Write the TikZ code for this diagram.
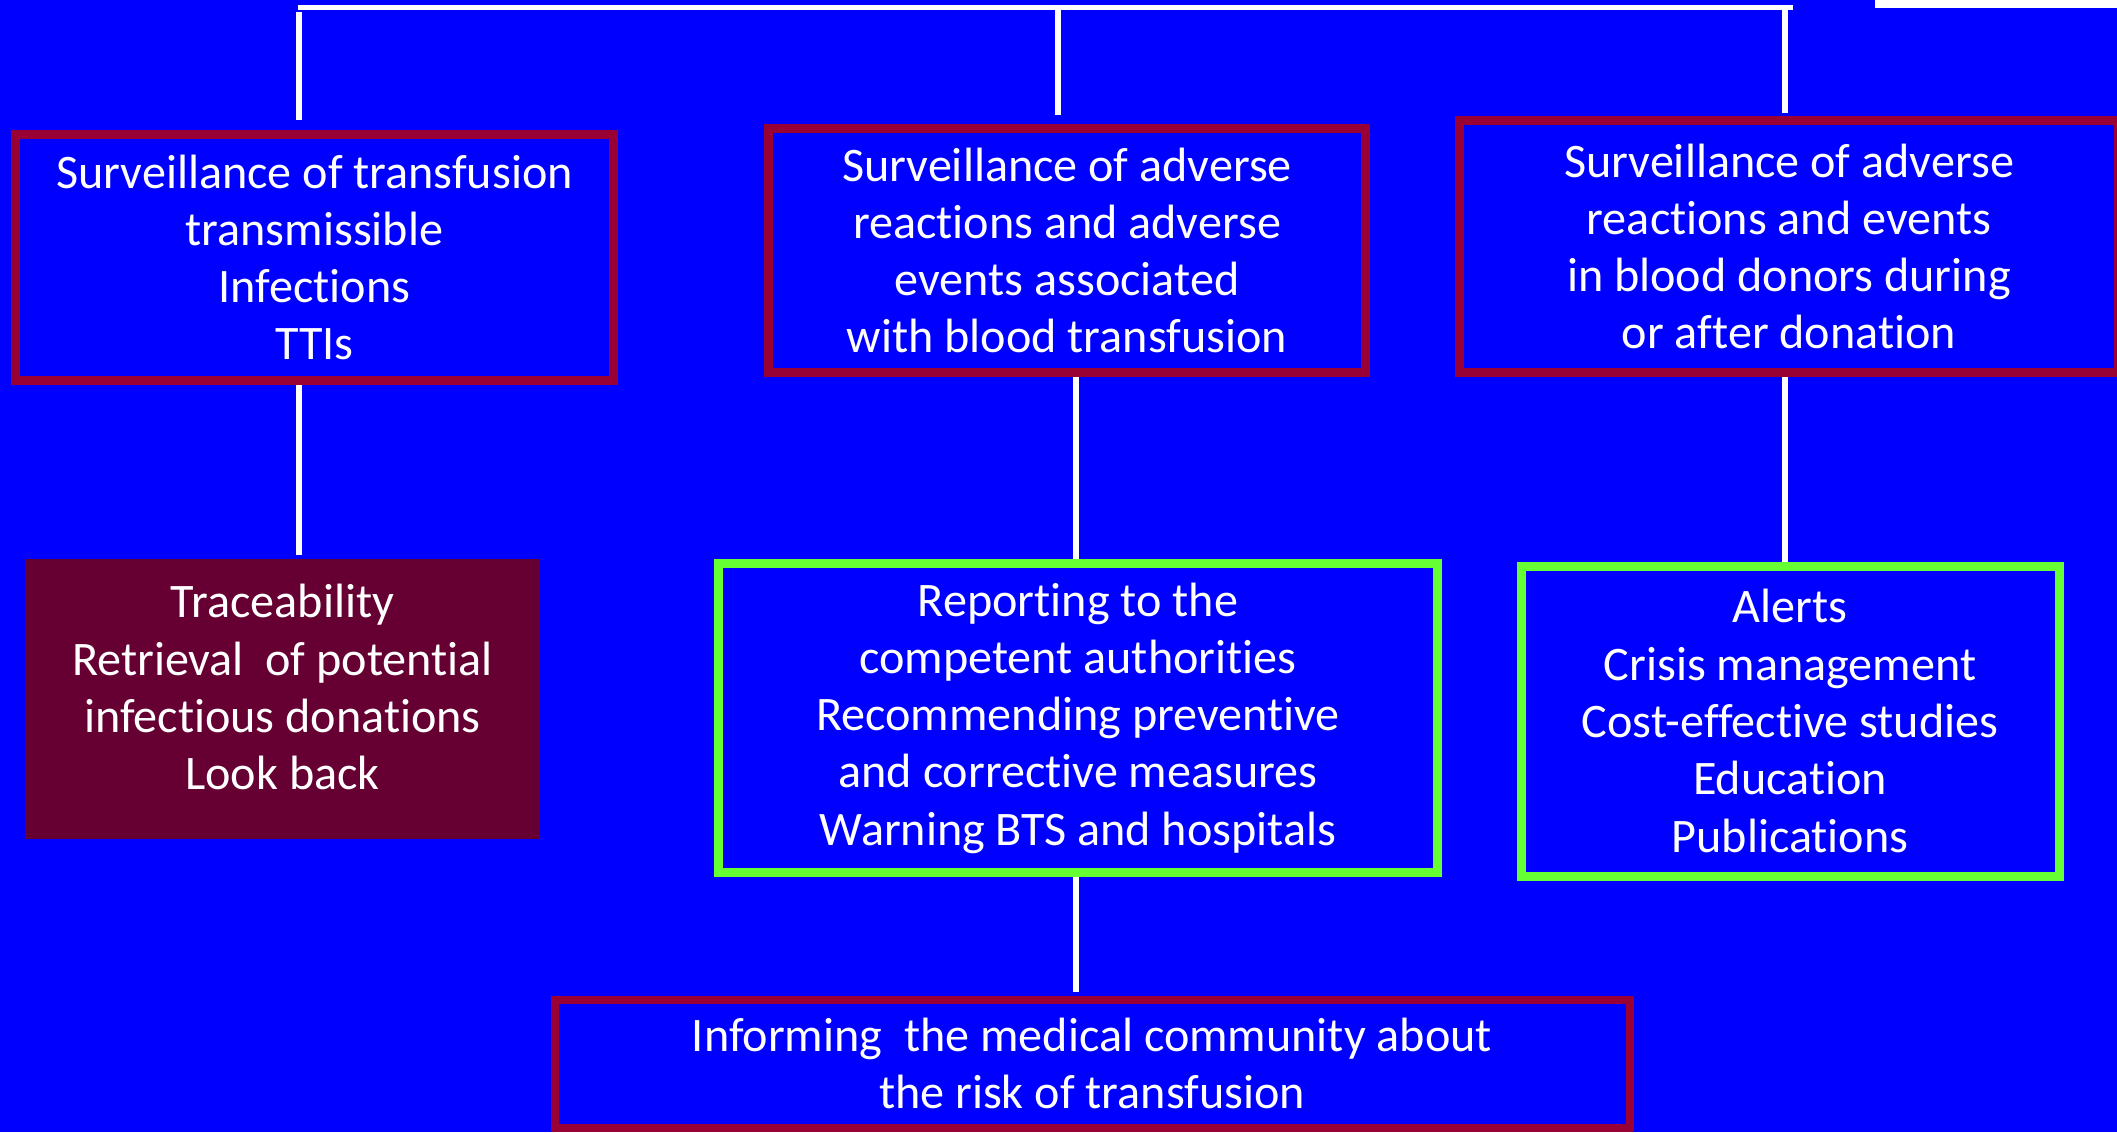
\documentclass[tikz,border=0pt]{standalone}
\usepackage{fontspec}
\setmainfont[Ligatures=NoCommon]{Carlito}
\usetikzlibrary{calc}

\definecolor{slideblue}{HTML}{0000FF}
\definecolor{wine}{HTML}{990033}
\definecolor{darkwine}{HTML}{660033}
\definecolor{limegreen}{HTML}{66FF33}

\tikzset{
  box/.style={rectangle, line width=0.09cm, align=center, text=white, inner sep=0pt,
    font=\fontsize{13.7}{16.3}\selectfont},
  survbox/.style={box, draw=wine},
  actbox/.style={box, draw=limegreen},
  link/.style={draw=white, line width=0.055cm},
}

\begin{document}
\begin{tikzpicture}
    \fill[slideblue] (0,0) rectangle (21.17,-11.32);
    \useasboundingbox (0,0) rectangle (21.17,-11.32);
    \fill[white] (18.75,0) rectangle (21.17,-0.08);

    % top row
    \node[survbox, minimum width=5.98cm, minimum height=2.46cm] (surv1) at (3.145,-2.575) {Surveillance of transfusion\\transmissible\\Infections\\TTIs};
    \node[survbox, minimum width=5.97cm, minimum height=2.44cm] (surv2) at (10.67,-2.505) {Surveillance of adverse\\reactions and adverse\\events associated\\with blood transfusion};
    \node[survbox, minimum width=6.59cm, minimum height=2.52cm] (surv3) at (17.89,-2.465) {Surveillance of adverse\\reactions and events\\in blood donors during\\or after donation};

    % middle row
    \node[box, fill=darkwine, text depth=0.24cm, minimum width=5.15cm, minimum height=2.80cm] (trace) at (2.825,-6.99) {Traceability\\Retrieval\ \ of potential\\infectious donations\\Look back};
    \node[actbox, minimum width=7.19cm, minimum height=3.09cm] (report) at (10.78,-7.18) {Reporting to the\\competent authorities\\Recommending preventive\\and corrective measures\\Warning BTS and hospitals};
    \node[actbox, minimum width=5.38cm, minimum height=3.10cm] (alerts) at (17.90,-7.21) {Alerts\\Crisis management\\Cost-effective studies\\Education\\Publications};

    % bottom
    \node[survbox, line width=0.08cm, minimum width=10.75cm, minimum height=1.28cm] (inform) at (10.92,-10.635) {Informing\ \ the medical community about\\the risk of transfusion};

    % connectors
    \coordinate (barL) at (2.98,-0.075);
    \coordinate (barR) at (17.93,-0.075);
    \coordinate (t1) at (2.99,-0.12);
    \coordinate (t2) at (10.58,-0.10);
    \coordinate (t3) at (17.85,-0.10);
    \coordinate (c2) at (10.76,0);
    \draw[link] (barL) -- (barR);
    \draw[link, shorten >=0.1cm] (t1) -- (surv1.north -| t1);
    \draw[link, shorten >=0.09cm] (t2) -- (surv2.north -| t2);
    \draw[link, shorten >=0.03cm] (t3) -- (surv3.north -| t3);
    \draw[link] (surv1.south -| t1) -- (trace.north -| t1);
    \draw[link] (surv2.south -| c2) -- (report.north -| c2);
    \draw[link] (surv3.south -| t3) -- (alerts.north -| t3);
    \draw[link, shorten >=0.04cm] (report.south -| c2) -- (inform.north -| c2);
\end{tikzpicture}
\end{document}
